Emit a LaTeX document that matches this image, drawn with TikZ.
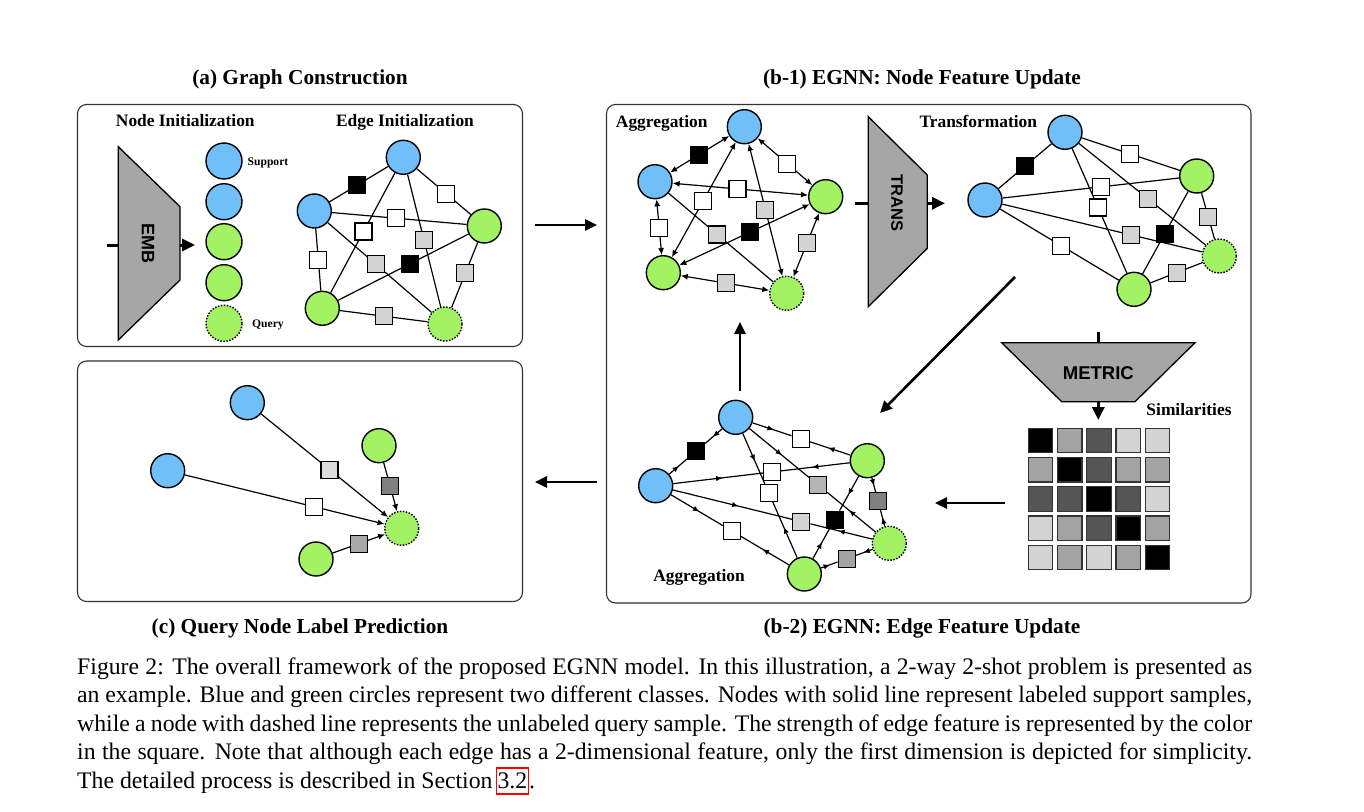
\documentclass[tikz,border=0pt]{standalone}
\usepackage{fontspec}
\setmainfont{Liberation Serif}
\newfontfamily\arialfont{Liberation Sans}
\usetikzlibrary{arrows.meta,decorations.markings,calc}
\definecolor{nblue}{HTML}{70BFF8}
\definecolor{ngreen}{HTML}{A2F263}
\definecolor{trapgray}{HTML}{A6A6A6}
\definecolor{gL}{HTML}{D3D3D3}
\definecolor{gM}{HTML}{A3A3A3}
\definecolor{gD}{HTML}{555555}
\definecolor{gB}{HTML}{B5B5B5}
\definecolor{gC}{HTML}{808080}
\definecolor{gE}{HTML}{DCDCDC}
\definecolor{gF}{HTML}{A8A8A8}
\tikzset{
 nd/.style={circle,draw=black,line width=1.4pt,minimum size=34pt,inner sep=0pt},
 bnd/.style={nd,fill=nblue},
 gnd/.style={nd,fill=ngreen},
 qnd/.style={nd,fill=ngreen,dash pattern=on 1.5pt off 1.5pt},
 sqr/.style={rectangle,draw=black,line width=1.1pt,minimum size=17pt,inner sep=0pt,fill=#1},
 sqr/.default=white,
 lnk/.style={line width=1.2pt},
 biarrow/.style={lnk,{Latex[length=7pt,width=6pt]}-{Latex[length=7pt,width=6pt]}},
 oneway/.style={lnk,-{Latex[length=7pt,width=6pt]}},
 midarr/.style={lnk,postaction={decorate},decoration={markings,mark=at position 0.55 with {\arrow{Latex[length=6.5pt,width=5.5pt]}}}},
 bigarrow/.style={line width=2.6pt,-{Triangle[length=12pt,width=11pt]}},
 smallarrow/.style={line width=3pt,-{Triangle[length=13pt,width=12pt]}},
 panelbox/.style={draw=black!80,line width=1.1pt,rounded corners=9pt},
 ttl/.style={font=\fontsize{21.3}{25}\selectfont\bfseries,anchor=base,inner sep=0pt},
 lbl/.style={font=\fontsize{17.4}{20}\selectfont\bfseries,anchor=base,inner sep=0pt},
 tinylbl/.style={font=\fontsize{11.6}{14}\selectfont\bfseries,anchor=base,inner sep=0pt},
 trapz/.style={fill=trapgray,draw=black,line width=1.3pt},
 traptxt/.style={font=\arialfont\fontsize{18}{20}\selectfont\bfseries,inner sep=0pt},
 captxt/.style={font=\fontsize{23.74}{28.5}\selectfont,anchor=base west,inner sep=0pt},
 cell/.style={rectangle,draw=black!80,line width=1.2pt,minimum size=24.4pt,inner sep=0pt},
}
\begin{document}
\begin{tikzpicture}[x=1pt,y=-1pt]
\useasboundingbox (0,0) rectangle (1364,811);

% ---------- titles ----------
\node[ttl] (ta) at (300,84) {(a) Graph Construction};
\node[ttl] (tb1) at (922,84) {(b-1) EGNN: Node Feature Update};
\node[ttl] (tc) at (300,633.5) {(c) Query Node Label Prediction};
\node[ttl] (tb2) at (922,633.5) {(b-2) EGNN: Edge Feature Update};

% ---------- panels ----------
\draw[panelbox] (77.5,104.5) rectangle (522.5,346.5);
\draw[panelbox] (77.5,361) rectangle (522.5,601.5);
\draw[panelbox] (606.5,104.5) rectangle (1251,603);

% ---------- panel (a) ----------
\node[lbl] (ni) at (185.3,126.5) {Node Initialization};
\node[lbl] (ei) at (405,126.5) {Edge Initialization};
\draw[trapz] (118.3,146.7) -- (180,206.7) -- (180,280) -- (118.3,340) -- cycle;
\node[traptxt,rotate=-90] (emb) at (148,243) {EMB};
\coordinate (embin) at (107,245);
\coordinate (embl) at (118.3,245);
\coordinate (embr) at (180,245);
\coordinate (embout) at (195,245);
\draw[line width=3pt] (embin) -- (embl);
\draw[smallarrow] (embr) -- (embout);

\node[bnd,minimum size=36pt] (c1) at (224,161) {};
\node[bnd,minimum size=36pt] (c2) at (224,201.7) {};
\node[gnd,minimum size=36pt] (c3) at (224,241.7) {};
\node[gnd,minimum size=36pt] (c4) at (224,282.7) {};
\node[qnd,minimum size=36pt] (c5) at (224,323.3) {};
\node[tinylbl] (sup) at (268,165) {Support};
\node[tinylbl] (qry) at (268,327.5) {Query};

\node[bnd] (aT) at (403.3,157.3) {};
\node[bnd] (aL) at (314.3,211) {};
\node[gnd] (aR) at (484.3,226) {};
\node[gnd] (aB) at (322.3,308.3) {};
\node[qnd] (aQ) at (445,324) {};
\draw[lnk] (aT) -- (aL);
\draw[lnk] (aT) -- (aR);
\draw[lnk] (aL) -- (aR);
\draw[lnk] (aT) -- (aB);
\draw[lnk] (aT) -- (aQ);
\draw[lnk] (aL) -- (aB);
\draw[lnk] (aL) -- (aQ);
\draw[lnk] (aR) -- (aB);
\draw[lnk] (aR) -- (aQ);
\draw[lnk] (aB) -- (aQ);
\node[sqr=black] (as1) at ($(aT)!(356,183.3)!(aL)$) {};
\node[sqr] (as2) at ($(aT)!(445.7,194)!(aR)$) {};
\node[sqr] (as3) at ($(aL)!(395.7,217.3)!(aR)$) {};
\node[sqr] (as4) at ($(aT)!(365.7,232.7)!(aB)$) {};
\node[sqr=gL] (as5) at ($(aT)!(424,240)!(aQ)$) {};
\node[sqr] (as6) at ($(aL)!(317.7,260)!(aB)$) {};
\node[sqr=gL] (as7) at ($(aL)!(376.7,263.3)!(aQ)$) {};
\node[sqr=black] (as8) at ($(aR)!(411.7,266.7)!(aB)$) {};
\node[sqr=gL] (as9) at ($(aR)!(467.7,274.3)!(aQ)$) {};
\node[sqr=gL] (as10) at ($(aB)!(383.3,319)!(aQ)$) {};

% ---------- panel (b-1) aggregation ----------
\node[lbl] (agg1) at (661.7,127.5) {Aggregation};
\node[bnd] (bT) at (744.3,126.7) {};
\node[bnd] (bL) at (655,181.7) {};
\node[gnd] (bR) at (825.7,196.7) {};
\node[gnd] (bB) at (663.3,272.7) {};
\node[qnd] (bQ) at (786.7,293.3) {};
\draw[biarrow] (bT) -- (bL);
\draw[biarrow] (bT) -- (bR);
\draw[biarrow] (bL) -- (bR);
\draw[biarrow] (bT) -- (bB);
\draw[biarrow] (bT) -- (bQ);
\draw[biarrow] (bL) -- (bB);
\draw[lnk] (bL) -- (bQ);
\draw[biarrow] (bR) -- (bB);
\draw[biarrow] (bR) -- (bQ);
\draw[biarrow] (bB) -- (bQ);
\node[sqr=black] (bs1) at ($(bT)!(697.7,153.3)!(bL)$) {};
\node[sqr] (bs2) at ($(bT)!(786.7,164.3)!(bR)$) {};
\node[sqr] (bs3) at ($(bL)!(737.7,186.7)!(bR)$) {};
\node[sqr] (bs4) at ($(bT)!(706.7,203.3)!(bB)$) {};
\node[sqr=gL] (bs5) at ($(bT)!(764.3,210)!(bQ)$) {};
\node[sqr] (bs6) at ($(bL)!(657.7,228.3)!(bB)$) {};
\node[sqr=gL] (bs7) at ($(bL)!(718.3,233.3)!(bQ)$) {};
\node[sqr=black] (bs8) at ($(bR)!(751.7,236.7)!(bB)$) {};
\node[sqr=gL] (bs9) at ($(bR)!(809,244.3)!(bQ)$) {};
\node[sqr=gL] (bs10) at ($(bB)!(725,288.3)!(bQ)$) {};

% ---------- TRANS ----------
\draw[trapz] (868.3,116.7) -- (927.3,175) -- (927.3,248.3) -- (868.3,306.7) -- cycle;
\node[traptxt,rotate=-90,font=\arialfont\fontsize{16.5}{20}\selectfont\bfseries] (trans) at (897,203) {TRANS};
\coordinate (trin) at (855,203.3);
\coordinate (trl) at (868.3,203.3);
\coordinate (trr) at (927.3,203.3);
\coordinate (trout) at (945,203.3);
\draw[line width=3pt] (trin) -- (trl);
\draw[smallarrow] (trr) -- (trout);

% ---------- transformation graph ----------
\node[lbl] (trf) at (978.3,127.5) {Transformation};
\node[bnd] (cT) at (1065,132.3) {};
\node[bnd] (cL) at (985,200) {};
\node[gnd] (cR) at (1196.7,176) {};
\node[gnd] (cB) at (1134,289.3) {};
\node[qnd] (cQ) at (1219.3,256) {};
\draw[lnk] (cT) -- (cL);
\draw[lnk] (cT) -- (cR);
\draw[lnk] (cL) -- (cR);
\draw[lnk] (cT) -- (cB);
\draw[lnk] (cT) -- (cQ);
\draw[lnk] (cL) -- (cB);
\draw[lnk] (cL) -- (cQ);
\draw[lnk] (cR) -- (cB);
\draw[lnk] (cR) -- (cQ);
\draw[lnk] (cB) -- (cQ);
\node[sqr=black] (cs1) at ($(cT)!(1025.7,166.7)!(cL)$) {};
\node[sqr] (cs2) at ($(cT)!(1130,153.3)!(cR)$) {};
\node[sqr] (cs3) at ($(cL)!(1100.7,185.7)!(cR)$) {};
\node[sqr] (cs4) at ($(cT)!(1092.3,210)!(cB)$) {};
\node[sqr=gL] (cs5) at ($(cT)!(1144.7,202.3)!(cQ)$) {};
\node[sqr] (cs6) at ($(cL)!(1060,247.7)!(cB)$) {};
\node[sqr=gL] (cs7) at ($(cL)!(1130,238.3)!(cQ)$) {};
\node[sqr=black] (cs8) at ($(cR)!(1163.3,233.3)!(cB)$) {};
\node[sqr=gL] (cs9) at ($(cR)!(1209.3,216.7)!(cQ)$) {};
\node[sqr=gL] (cs10) at ($(cB)!(1180,280.7)!(cQ)$) {};

% ---------- METRIC ----------
\draw[trapz] (1001.7,342.7) -- (1195,342.7) -- (1135,401.7) -- (1061.7,401.7) -- cycle;
\node[traptxt,font=\arialfont\fontsize{18.5}{20}\selectfont\bfseries] (metric) at (1098.3,373.3) {METRIC};
\coordinate (mtin) at (1098.3,331.7);
\coordinate (mtt) at (1098.3,342.7);
\coordinate (mtb) at (1098.3,401.7);
\coordinate (mtout) at (1098.3,420);
\draw[line width=3pt] (mtin) -- (mtt);
\draw[smallarrow] (mtb) -- (mtout);
\node[lbl] (sim) at (1189,415.7) {Similarities};

\foreach \rowlist [count=\r from 0] in {{black,gM,gD,gL,gL},{gM,black,gD,gM,gM},{gD,gD,black,gD,gL},{gL,gM,gD,black,gM},{gL,gM,gL,gM,black}} {
  \foreach \cc [count=\k from 0] in \rowlist {
    \node[cell,fill=\cc] (m\r\k) at ({1040.5+29.2*\k},{440.5+29.2*\r}) {};
  }
}

% ---------- panel (b-2) ----------
\node[lbl] (agg2) at (699,581) {Aggregation};
\node[bnd] (dT) at (735.7,417.3) {};
\node[bnd] (dL) at (655.7,485.7) {};
\node[gnd] (dR) at (867.3,460.7) {};
\node[gnd] (dB) at (804.3,574) {};
\node[qnd] (dQ) at (889.3,543.3) {};
\node[sqr=black] (ds1) at ($(dT)!(696.7,451.7)!(dL)$) {};
\node[sqr] (ds2) at ($(dT)!(800.7,438.3)!(dR)$) {};
\node[sqr] (ds3) at ($(dL)!(771.7,470)!(dR)$) {};
\node[sqr] (ds4) at ($(dT)!(764,495)!(dB)$) {};
\node[sqr=gB] (ds5) at ($(dT)!(816,487.3)!(dQ)$) {};
\node[sqr] (ds6) at ($(dL)!(730.7,532.7)!(dB)$) {};
\node[sqr=gL] (ds7) at ($(dL)!(801,523.3)!(dQ)$) {};
\node[sqr=black] (ds8) at ($(dR)!(834,519.3)!(dB)$) {};
\node[sqr=gC] (ds9) at ($(dR)!(879,501)!(dQ)$) {};
\node[sqr=gM] (ds10) at ($(dB)!(848.3,563.3)!(dQ)$) {};
\draw[midarr] (dT) -- (ds1); \draw[midarr] (dL) -- (ds1);
\draw[midarr] (dT) -- (ds2); \draw[midarr] (dR) -- (ds2);
\draw[midarr] (dL) -- (ds3); \draw[midarr] (dR) -- (ds3);
\draw[midarr] (dT) -- (ds4); \draw[midarr] (dB) -- (ds4);
\draw[midarr] (dT) -- (ds5); \draw[midarr] (dQ) -- (ds5);
\draw[midarr] (dL) -- (ds6); \draw[midarr] (dB) -- (ds6);
\draw[midarr] (dL) -- (ds7); \draw[midarr] (dQ) -- (ds7);
\draw[midarr] (dR) -- (ds8); \draw[midarr] (dB) -- (ds8);
\draw[midarr] (dR) -- (ds9); \draw[midarr] (dQ) -- (ds9);
\draw[midarr] (dB) -- (ds10); \draw[midarr] (dQ) -- (ds10);

% ---------- panel (c) ----------
\node[bnd] (eB1) at (247.3,402.7) {};
\node[bnd] (eB2) at (167.7,470.7) {};
\node[gnd] (eG1) at (379,445.7) {};
\node[gnd] (eG2) at (316,559) {};
\node[qnd] (eQ) at (401.7,528.3) {};
\draw[oneway] (eB1) -- (eQ);
\draw[oneway] (eB2) -- (eQ);
\draw[oneway] (eG1) -- (eQ);
\draw[oneway] (eG2) -- (eQ);
\node[sqr=gE] (es1) at ($(eB1)!(327.3,472.3)!(eQ)$) {};
\node[sqr] (es2) at ($(eB2)!(313.3,508.3)!(eQ)$) {};
\node[sqr=gC] (es3) at ($(eG1)!(390.7,486)!(eQ)$) {};
\node[sqr=gF] (es4) at ($(eG2)!(360.7,549.3)!(eQ)$) {};

% ---------- big arrows ----------
\coordinate (p1) at (535,225); \coordinate (p2) at (597,225);
\draw[bigarrow] (p1) -- (p2);
\coordinate (p3) at (597,482); \coordinate (p4) at (535,482);
\draw[bigarrow] (p3) -- (p4);
\coordinate (p5) at (740,391); \coordinate (p6) at (740,322);
\draw[bigarrow] (p5) -- (p6);
\coordinate (p7) at (1015,277); \coordinate (p8) at (880,413);
\draw[bigarrow] (p7) -- (p8);
\coordinate (p9) at (1005,503); \coordinate (p10) at (935,503);
\draw[bigarrow] (p9) -- (p10);

% ---------- caption ----------
\node[captxt] (l1) at (77,674) {\makebox[1175pt][s]{Figure 2: The overall framework of the proposed EGNN model. In this illustration, a 2-way 2-shot problem is presented as}};
\node[captxt] (l2) at (77,702.5) {\makebox[1175pt][s]{an example. Blue and green circles represent two different classes. Nodes with solid line represent labeled support samples,}};
\node[captxt] (l3) at (77,731) {\makebox[1175pt][s]{while a node with dashed line represents the unlabeled query sample. The strength of edge feature is represented by the color}};
\node[captxt] (l4) at (77,759.5) {\makebox[1175pt][s]{in the square. Note that although each edge has a 2-dimensional feature, only the first dimension is depicted for simplicity.}};
\node[captxt] (l5) at (77,788) {The detailed process is described in Section};
\node[captxt,draw=red,line width=1.2pt,inner xsep=1.2pt,inner ysep=0pt,text height=20pt,text depth=6pt] (ref) at ($(l5.base east)+(3,0)$) {3.2};
\node[captxt] (dot) at (ref.base east) {.};
\end{tikzpicture}
\end{document}
